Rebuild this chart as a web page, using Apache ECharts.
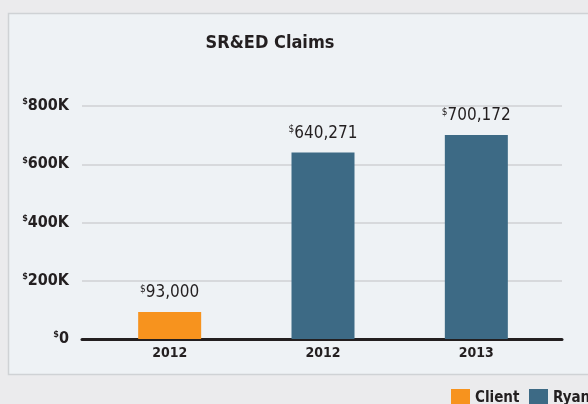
<!DOCTYPE html>
<html>
<head>
<meta charset="utf-8">
<script src="https://cdn.jsdelivr.net/npm/echarts@6/dist/echarts.min.js"></script>
<style>
  html, body { margin: 0; padding: 0; background: #ebebed; }
  #chart { width: 588px; height: 404px; }
</style>
</head>
<body>
<div id="chart"></div>
<script>
var years = ['2012', '2012', '2013']
var clientData = [93000, '-', '-']
var ryanData = ['-', 640271, 700172]
var yTicks = [0, 200000, 400000, 600000, 800000]
var yTickLabels = ['0', '200K', '400K', '600K', '800K']

var FONT = '"DejaVu Sans Condensed", "Liberation Sans Narrow", sans-serif'
var INK = '#231f20'

function money(v) {
  return '{s|$}{v|' + Number(v).toLocaleString('en-US') + '}'
}

var valueLabel = {
  show: true,
  position: 'top',
  distance: 10,
  formatter: function (p) { return money(p.value) },
  rich: {
    s: { fontFamily: FONT, fontSize: 10, color: INK, verticalAlign: 'top', padding: [0, 0, 8, 0] },
    v: { fontFamily: FONT, fontSize: 17, color: INK }
  }
}

var legendText = { fontFamily: FONT, fontSize: 15, fontWeight: 'bold', color: INK }

var chart = echarts.init(document.getElementById('chart'))
chart.setOption({
  backgroundColor: '#ebebed',
  textStyle: { fontFamily: FONT, color: INK },
  animation: false,
  graphic: [
    {
      type: 'rect',
      z: -10,
      shape: { x: 8.5, y: 13.5, width: 590, height: 361 },
      style: { fill: '#eef2f5', stroke: '#cfd2d5', lineWidth: 1.5 }
    }
  ],
  title: {
    text: 'SR&ED Claims',
    left: 265,
    top: 29,
    textAlign: 'center',
    textStyle: { fontFamily: FONT, fontSize: 18, fontWeight: 'bold', color: INK }
  },
  legend: [
    {
      left: 451,
      top: 389,
      padding: 0,
      itemWidth: 19,
      itemHeight: 19,
      itemGap: 7,
      icon: 'rect',
      data: ['Client'],
      textStyle: legendText
    },
    {
      left: 529,
      top: 389,
      padding: 0,
      itemWidth: 19,
      itemHeight: 19,
      icon: 'rect',
      data: ['Ryan'],
      textStyle: legendText
    }
  ],
  grid: [
    { left: 82, right: 26, top: 106, bottom: 65 },
    { left: 93, right: 35, top: 106, bottom: 65 }
  ],
  xAxis: [
    {
      type: 'category',
      gridIndex: 0,
      data: years,
      axisLine: { lineStyle: { color: INK, width: 3 } },
      axisTick: { show: false },
      axisLabel: { show: false }
    },
    {
      type: 'category',
      gridIndex: 1,
      data: years,
      axisLine: { show: false },
      axisTick: { show: false },
      axisLabel: { margin: 7, fontFamily: FONT, fontSize: 14, fontWeight: 'bold', color: INK }
    }
  ],
  yAxis: [
    {
      type: 'value',
      gridIndex: 0,
      min: yTicks[0],
      max: yTicks[yTicks.length - 1],
      interval: yTicks[1] - yTicks[0],
      axisLine: { show: false },
      axisTick: { show: false },
      splitLine: { lineStyle: { color: '#d7d9dc', width: 2 } },
      axisLabel: {
        margin: 13,
        formatter: function (v) {
          return '{s|$}{v|' + yTickLabels[yTicks.indexOf(v)] + '}'
        },
        rich: {
          s: { fontFamily: FONT, fontSize: 9, fontWeight: 'bold', color: INK, verticalAlign: 'top', padding: [0, 0, 8, 0] },
          v: { fontFamily: FONT, fontSize: 16, fontWeight: 'bold', color: INK }
        }
      }
    },
    {
      type: 'value',
      gridIndex: 1,
      min: yTicks[0],
      max: yTicks[yTicks.length - 1],
      interval: yTicks[1] - yTicks[0],
      show: false
    }
  ],
  series: [
    {
      name: 'Client',
      type: 'bar',
      xAxisIndex: 1,
      yAxisIndex: 1,
      stack: 'claims',
      barWidth: 63,
      itemStyle: { color: '#f7931e' },
      label: valueLabel,
      data: clientData
    },
    {
      name: 'Ryan',
      type: 'bar',
      xAxisIndex: 1,
      yAxisIndex: 1,
      stack: 'claims',
      barWidth: 63,
      itemStyle: { color: '#3d6a85' },
      label: valueLabel,
      data: ryanData
    }
  ]
})
</script>
</body>
</html>
